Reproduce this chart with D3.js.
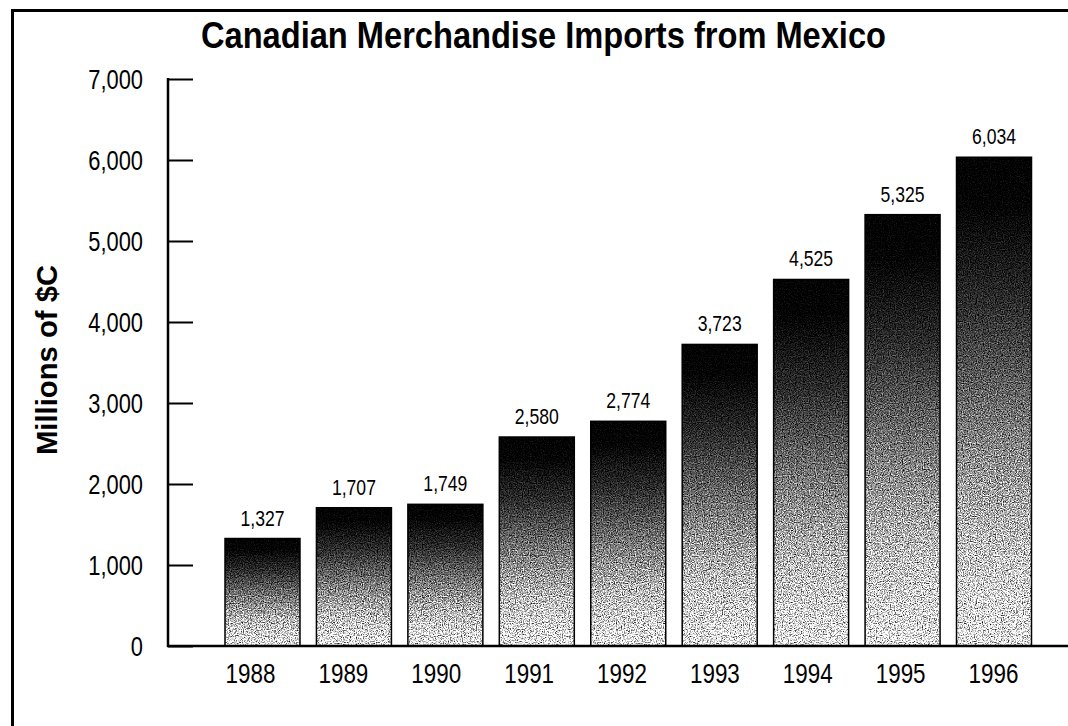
<!DOCTYPE html>
<html>
<head>
<meta charset="utf-8">
<script src="https://cdn.jsdelivr.net/npm/d3@7"></script>
<style>
  html, body { margin: 0; padding: 0; background: #fff; }
  svg { display: block; }
  text { font-family: "Liberation Sans", Arial, sans-serif; fill: #000; }
</style>
</head>
<body>
<svg id="chart" width="1068" height="726"></svg>
<script>
// Canadian merchandise imports from Mexico, millions of Canadian dollars
const years = ["1988", "1989", "1990", "1991", "1992", "1993", "1994", "1995", "1996"];
const imports = [1327, 1707, 1749, 2580, 2774, 3723, 4525, 5325, 6034];
const yTicks = [0, 1000, 2000, 3000, 4000, 5000, 6000, 7000];

const title = "Canadian Merchandise Imports from Mexico";
const yLabel = "Millions of $C";

const W = 1068, H = 726;
const svg = d3.select("#chart");
const fmt = d3.format(",");

// condensed lettering: squeeze each label horizontally
function narrow(sel, k) {
  sel.each(function () {
    const w = this.getComputedTextLength();
    d3.select(this).attr("textLength", w * k).attr("lengthAdjust", "spacingAndGlyphs");
  });
}

const x = d3.scaleBand().domain(years).range([225, 1031.5]).paddingInner(0.18).paddingOuter(0);
// year labels sit on their own slightly wider spacing
const xLabel = d3.scalePoint().domain(years).range([250, 993]);
const y = d3.scaleLinear().domain([0, 7000]).range([646, 79]);

const defs = svg.append("defs");

// vertical dark-to-light fill for each bar
const grad = defs.append("linearGradient")
  .attr("id", "barFill").attr("x1", 0).attr("y1", 0).attr("x2", 0).attr("y2", 1);
[[0, "#000"], [0.1, "#020202"], [0.3, "#2c2c2c"], [0.55, "#787878"], [0.8, "#c4c4c4"], [1, "#f2f2f2"]]
  .forEach(([o, c]) => grad.append("stop").attr("offset", o).attr("stop-color", c));

// screen-print style grain, stronger in the lighter tones
const grain = defs.append("filter").attr("id", "grain")
  .attr("color-interpolation-filters", "sRGB")
  .attr("x", 0).attr("y", 0).attr("width", 1).attr("height", 1);
grain.append("feTurbulence").attr("type", "fractalNoise").attr("baseFrequency", 0.85)
  .attr("numOctaves", 2).attr("seed", 11).attr("result", "t");
grain.append("feColorMatrix").attr("in", "t").attr("type", "matrix")
  .attr("values", "1 0 0 0 0  1 0 0 0 0  1 0 0 0 0  0 0 0 0 1").attr("result", "n");
grain.append("feComposite").attr("in", "SourceGraphic").attr("in2", "n")
  .attr("operator", "arithmetic").attr("k1", 2.4).attr("k2", -0.2).attr("k3", 0.3).attr("k4", -0.15)
  .attr("result", "mix");
grain.append("feComposite").attr("in", "mix").attr("in2", "SourceGraphic").attr("operator", "in");

// frame (top and left rules)
svg.append("line").attr("x1", 12).attr("y1", 10.5).attr("x2", W).attr("y2", 10.5)
  .attr("stroke", "#000").attr("stroke-width", 3);
svg.append("line").attr("x1", 12.5).attr("y1", 9).attr("x2", 12.5).attr("y2", H)
  .attr("stroke", "#000").attr("stroke-width", 3);

// title
svg.append("text").attr("x", 543.5).attr("y", 48).attr("text-anchor", "middle")
  .attr("font-size", 36).attr("font-weight", "bold")
  .attr("textLength", 685).attr("lengthAdjust", "spacingAndGlyphs")
  .text(title);

// y-axis label
svg.append("text").attr("transform", "translate(57,360) rotate(-90)")
  .attr("text-anchor", "middle").attr("font-size", 30).attr("font-weight", "bold")
  .attr("textLength", 190).attr("lengthAdjust", "spacingAndGlyphs")
  .text(yLabel);

// bars
svg.append("g").selectAll("rect").data(imports).join("rect")
  .attr("x", (d, i) => x(years[i]))
  .attr("y", d => y(d))
  .attr("width", x.bandwidth())
  .attr("height", d => y(0) - y(d))
  .attr("fill", "url(#barFill)")
  .attr("filter", "url(#grain)");
// bar edges
svg.append("g").selectAll("rect").data(imports).join("rect")
  .attr("x", (d, i) => x(years[i]))
  .attr("y", d => y(d))
  .attr("width", x.bandwidth())
  .attr("height", d => y(0) - y(d))
  .attr("fill", "none").attr("stroke", "#000").attr("stroke-width", 1.5);

// value labels
svg.append("g").selectAll("text").data(imports).join("text")
  .attr("x", (d, i) => x(years[i]) + x.bandwidth() / 2)
  .attr("y", d => y(d) - 13)
  .attr("text-anchor", "middle").attr("font-size", 22)
  .text(d => fmt(d))
  .call(narrow, 0.8);

// y axis: ticks point inward
const yAxis = d3.axisRight(y).tickValues(yTicks).tickSize(25).tickFormat("");
const gy = svg.append("g").attr("transform", "translate(168,0)").call(yAxis);
gy.select(".domain").remove();
gy.selectAll(".tick line").attr("stroke", "#000").attr("stroke-width", 2);
svg.append("line").attr("x1", 168).attr("y1", y(7000) - 1).attr("x2", 168).attr("y2", y(0) + 1)
  .attr("stroke", "#000").attr("stroke-width", 2.5);
svg.append("g").selectAll("text").data(yTicks).join("text")
  .attr("x", 143).attr("y", d => y(d)).attr("dy", "0.36em")
  .attr("text-anchor", "end").attr("font-size", 28)
  .text(d => fmt(d))
  .call(narrow, 0.78);

// x axis
svg.append("line").attr("x1", 167).attr("y1", y(0)).attr("x2", W).attr("y2", y(0))
  .attr("stroke", "#000").attr("stroke-width", 2.5);
const xAxis = d3.axisBottom(xLabel).tickSize(0).tickPadding(0);
const gx = svg.append("g").attr("transform", `translate(0,${y(0)})`).call(xAxis);
gx.select(".domain").remove();
gx.selectAll(".tick text").attr("y", 37).attr("dy", 0)
  .attr("font-size", 28).attr("font-family", null).attr("fill", "#000")
  .call(narrow, 0.8);
</script>
</body>
</html>
